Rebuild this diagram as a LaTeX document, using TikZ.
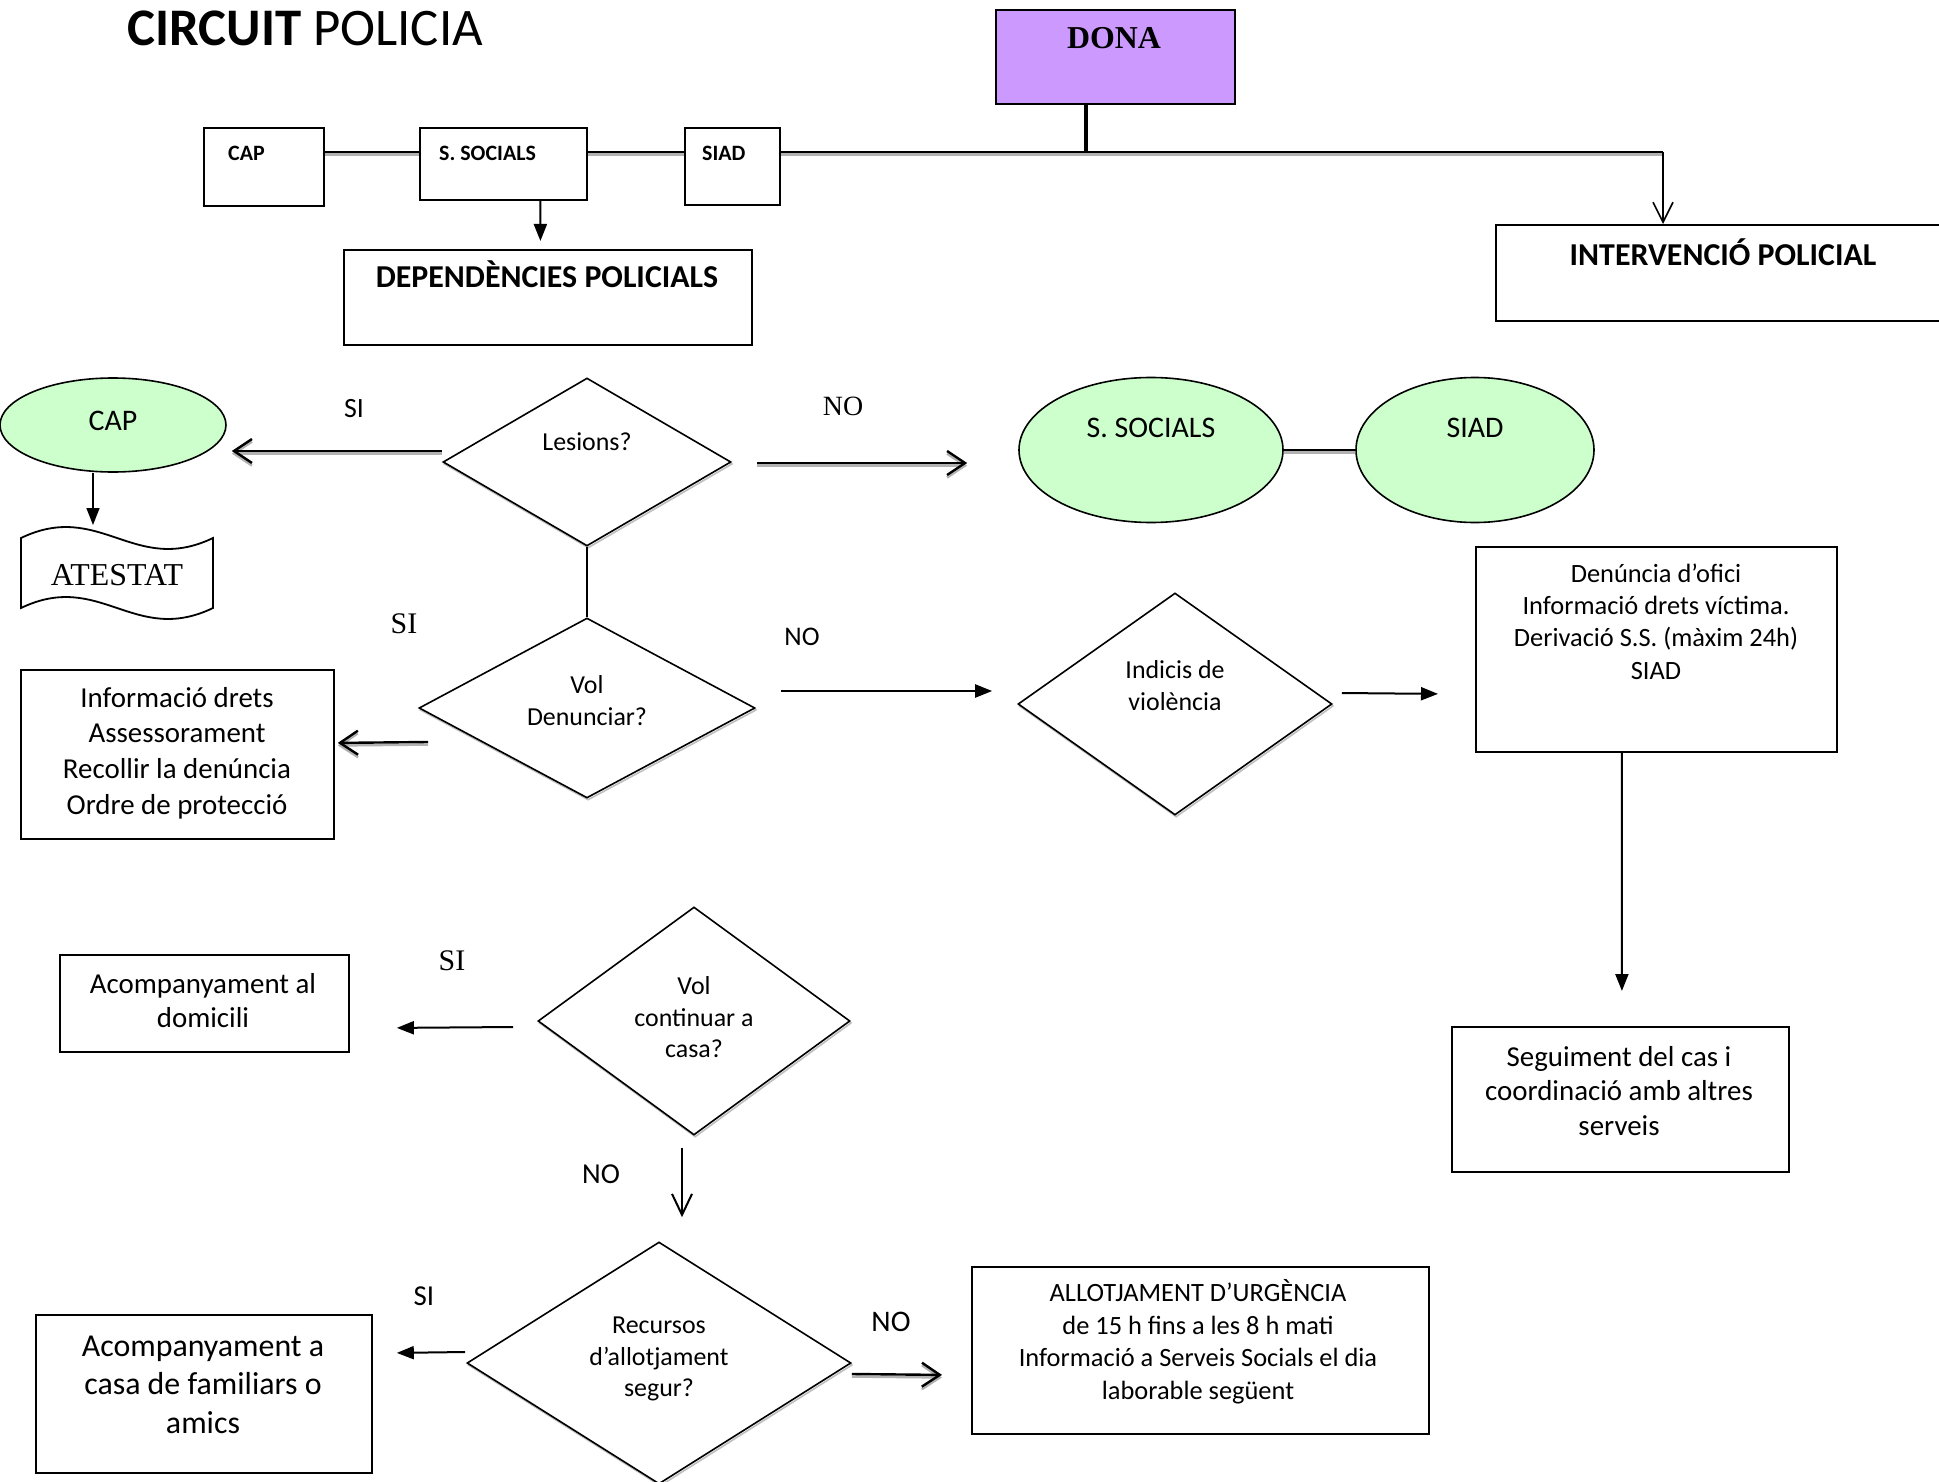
\documentclass[tikz,border=0pt]{standalone}
\usepackage{fontspec}
\setmainfont{Carlito}
\newfontfamily\tnr{Liberation Serif}
\usetikzlibrary{arrows.meta,shapes.geometric,calc}
\newcommand{\fsz}[2]{\fontsize{#1}{#2}\selectfont}
\definecolor{donapurple}{HTML}{CC99FF}
\definecolor{lgreen}{HTML}{CCFFCC}
\begin{document}
\begin{tikzpicture}[x=1bp,y=-1bp,
  box/.style={draw, line width=1.8bp, rectangle, inner sep=0, anchor=north west},
  dia/.style={draw, shape=diamond, line width=1.6bp, inner sep=0, fill=white,
    preaction={draw=black!25, line width=1.6bp, transform canvas={shift={(1.2pt,-2pt)}}}},
  ell/.style={draw, ellipse, line width=1.6bp, fill=lgreen, inner sep=0},
  txt/.style={inner sep=0, align=center, anchor=north},
  lbl/.style={inner sep=0, anchor=base},
  shd/.style={preaction={draw=black!30, line width=2.4bp, transform canvas={shift={(0pt,-2.6pt)}}}},
  dbl/.style={line width=2.4bp, shd},
  tri/.style={line width=2bp, -{Triangle[length=17bp,width=13bp]}},
  barb/.style={-{Straight Barb[length=18bp,width=24bp]}},
  vbarb/.style={-{Straight Barb[length=21bp,width=20bp]}},
]
\path[use as bounding box, fill=white] (0,0) rectangle (1939,1482);

% title
\node[inner sep=0, anchor=base west, font=\fsz{53}{60}] (title) at (127,46) {\textbf{CIRCUIT} POLICIA};

% top row
\node[box, fill=donapurple, minimum width=239bp, minimum height=94bp] (dona) at (995,9) {};
\node[lbl, font=\tnr\bfseries\fsz{32}{38}] (dona-t) at (1114,49) {DONA};

\node[box, minimum width=120bp, minimum height=78bp] (cap1) at (203,127) {};
\node[lbl, anchor=base west, font=\bfseries\fsz{22}{26}] (cap1-t) at (228,161) {CAP};
\node[box, minimum width=167bp, minimum height=72bp] (ssoc1) at (419,127) {};
\node[lbl, anchor=base west, font=\bfseries\fsz{22}{26}] (ssoc1-t) at (439,161) {S. SOCIALS};
\node[box, minimum width=95bp, minimum height=77bp] (siad1) at (684,127) {};
\node[lbl, anchor=base west, font=\bfseries\fsz{22}{26}] (siad1-t) at (702,161) {SIAD};

\node[box, minimum width=408bp, minimum height=95bp] (dep) at (343,249) {};
\node[lbl, font=\bfseries\fsz{32}{38}] (dep-t) at (547,288) {DEPENDÈNCIES POLICIALS};
\node[box, minimum width=470bp, minimum height=96bp] (interv) at (1495,224) {};
\node[lbl, font=\bfseries\fsz{32}{38}] (interv-t) at (1723,266) {INTERVENCIÓ POLICIAL};

\coordinate (dj) at (1086,152);
\coordinate (ij) at (1663,152);
\draw[line width=4.5bp] (dona.south -| dj) -- (dj);
\draw[dbl] (cap1.east |- dj) -- (ssoc1.west |- dj);
\draw[dbl] (ssoc1.east |- dj) -- (siad1.west |- dj);
\draw[dbl] (siad1.east |- dj) -- (ij);
\draw[line width=1.6bp, -{Straight Barb[length=20bp,width=20bp]}] (ij) -- (ij |- interv.north);
\draw[tri] ($(ssoc1.south)+(37,0)$) -- ($(dep.north)+(-7.5,-8)$);

% second row
\node[ell, minimum width=226bp, minimum height=94bp] (capE) at (113,425) {};
\node[lbl, font=\fsz{30}{36}] (capE-t) at (113,430) {CAP};
\node[ell, minimum width=264bp, minimum height=145bp] (ssocE) at (1151,450) {};
\node[lbl, font=\fsz{30}{36}] (ssocE-t) at (1151,437) {S. SOCIALS};
\node[ell, minimum width=238bp, minimum height=145bp] (siadE) at (1475,450) {};
\node[lbl, font=\fsz{30}{36}] (siadE-t) at (1475,437) {SIAD};
\draw[dbl] (ssocE.east) -- (siadE.west);

\node[dia, minimum width=288bp, minimum height=168bp] (les) at (587,462) {};
\node[lbl, font=\fsz{26}{32}] (les-t) at (587,450) {Lesions?};
\node[lbl, font=\fsz{28}{34}] (si1) at (354,417) {SI};
\node[lbl, font=\tnr\fsz{28}{34}] (no1) at (843,415) {NO};
\draw[dbl, barb] ($(les.west)+(0,-11)$) -- ($(capE.east)+(5,26)$);
\draw[dbl, barb] ($(les.east)+(25,1)$) -- ($(ssocE.west)+(-51,13)$);

% ATESTAT
\coordinate (atop) at (93,525);
\draw[line width=1.8bp, fill=white] (21,538) .. controls (100,500) and (134,576) .. (213,538) -- (213,608) .. controls (134,646) and (100,570) .. (21,608) -- cycle;
\node[lbl, font=\tnr\fsz{32}{38}] (atestat) at (117,585) {ATESTAT};
\draw[tri, line width=1.5bp] (capE.south -| atop) -- (atop);

% Vol denunciar
\node[dia, minimum width=336bp, minimum height=180bp] (vd) at (587,708) {};
\node[txt, font=\fsz{26}{32}] (vd-t) at (587,670.6) {\strut Vol\\Denunciar?};
\draw[line width=1.6bp] (les.south) -- (vd.north);
\node[lbl, font=\tnr\fsz{30}{36}] (si2) at (404,633) {SI};
\node[lbl, font=\fsz{27}{32}] (no2) at (802,645) {NO};
\node[box, minimum width=313bp, minimum height=169bp] (info) at (20,669) {};
\node[txt, font=\fsz{29}{36}] (info-t) at (177,681.8) {\strut Informació drets\\Assessorament\\Recollir la denúncia\\Ordre de protecció};
\draw[dbl, barb] ($(vd.west)+(10,34)$) -- ($(info.east)+(3,-11.5)$);

\node[dia, minimum width=314bp, minimum height=222bp] (ind) at (1175,704) {};
\node[txt, font=\fsz{26}{32}] (ind-t) at (1175,655.6) {\strut Indicis de\\violència};
\draw[tri] ($(vd.east)+(25,-17)$) -- ($(ind.west)+(-25,-13)$);

\node[box, minimum width=361bp, minimum height=205bp] (den) at (1475,546) {};
\node[txt, font=\fsz{26.5}{32.5}] (den-t) at (1656,559.2) {\strut Denúncia d’ofici\\Informació drets víctima.\\Derivació S.S. (màxim 24h)\\SIAD};
\draw[tri] ($(ind.east)+(9,-11)$) -- ($(den.west)+(-37,44.5)$);

\node[box, minimum width=337bp, minimum height=145bp] (seg) at (1451,1026) {};
\node[txt, font=\fsz{29}{35}] (seg-t) at (1619,1041.5) {\strut Seguiment del cas i\\coordinació amb altres\\serveis};
\draw[tri] ($(den.south)+(-34.5,0)$) -- ($(seg.north)+(1.5,-35)$);

% Vol continuar a casa
\node[box, minimum width=289bp, minimum height=97bp] (acdom) at (59,954) {};
\node[txt, font=\fsz{29}{35}] (acdom-t) at (203,968.5) {\strut Acompanyament al\\domicili};
\node[dia, minimum width=312bp, minimum height=228bp] (vc) at (694,1021) {};
\node[txt, font=\fsz{26}{32}] (vc-t) at (694,971.6) {\strut Vol\\continuar a\\casa?};
\node[lbl, font=\tnr\fsz{30}{36}] (si3) at (452,970) {SI};
\draw[tri] ($(vc.west)+(-24,6)$) -- ($(acdom.east)+(47,24.5)$);

\node[dia, minimum width=384bp, minimum height=242bp] (rec) at (659,1363) {};
\node[txt, font=\fsz{26}{32}] (rec-t) at (659,1310.6) {\strut Recursos\\d’allotjament\\segur?};
\draw[line width=2bp, vbarb] ($(vc.south)+(-12,12)$) -- ($(rec.north)+(23,-24)$);
\node[lbl, font=\fsz{29}{35}] (no3) at (601,1183) {NO};
\node[lbl, font=\fsz{29}{35}] (si4) at (424,1305) {SI};
\node[box, minimum width=336bp, minimum height=158bp] (acasa) at (35,1314) {};
\node[txt, font=\fsz{32}{39}] (acasa-t) at (203,1328.7) {\strut Acompanyament a\\casa de familiars o\\amics};
\draw[tri] ($(rec.west)+(-1,-11)$) -- ($(acasa.east)+(24,-41)$);

\node[lbl, font=\fsz{30}{36}] (no5) at (891,1331) {NO};
\node[box, minimum width=457bp, minimum height=167bp] (allot) at (971,1266) {};
\node[txt, font=\fsz{26.5}{32.5}] (allot-t) at (1198,1279) {\strut ALLOTJAMENT D’URGÈNCIA\\de 15 h fins a les 8 h mati\\Informació a Serveis Socials el dia\\laborable següent};
\draw[dbl, barb] ($(rec.east)+(0,11)$) -- ($(allot.west)+(-29,24.5)$);
\end{tikzpicture}
\end{document}
